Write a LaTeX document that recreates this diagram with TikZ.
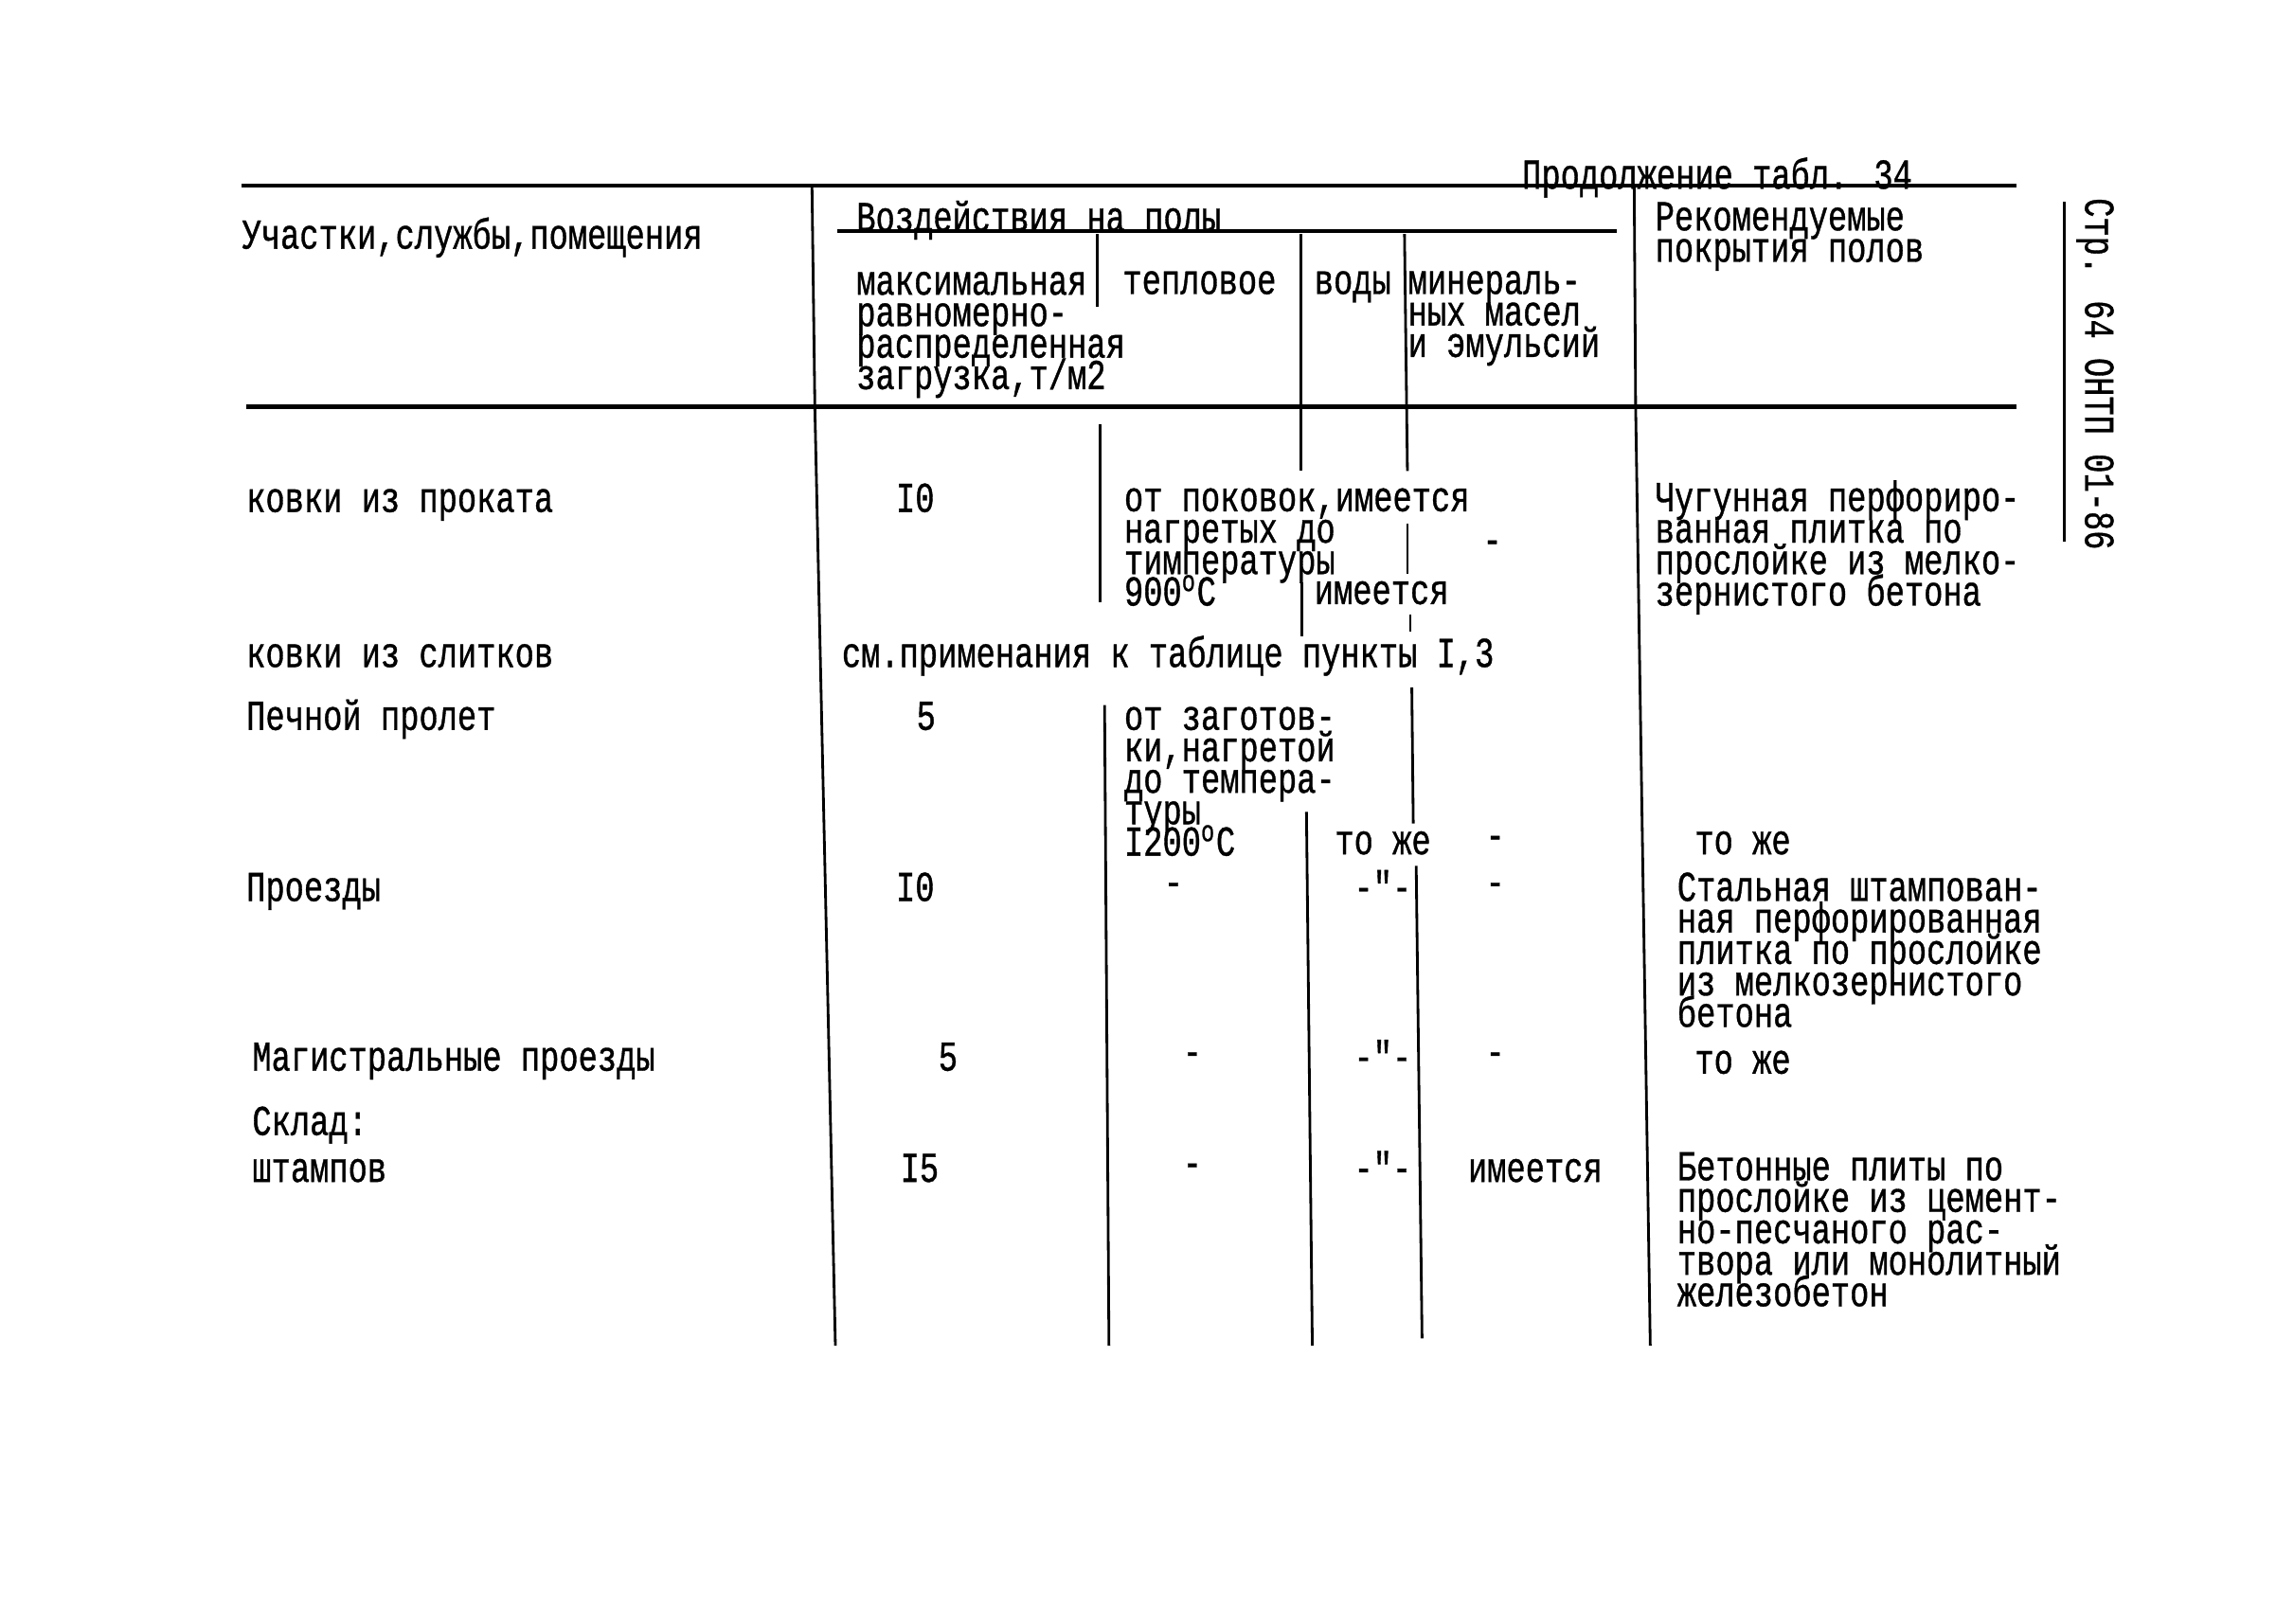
\documentclass[tikz,border=0pt]{standalone}
\usepackage{fontspec}
\newfontfamily\tw[FakeStretch=0.75,FakeBold=0.8]{Liberation Mono}
\newcommand\twfont{\tw\fontsize{12.8}{9.45}\selectfont\setlength\lineskiplimit{-20pt}\setlength\lineskip{0pt}}

\begin{document}
\begin{tikzpicture}[x=0.015446cm, y=-0.015446cm,
  txt/.style={anchor=base west, inner sep=0pt, align=left, font=\twfont},
  dsh/.style={anchor=center, inner sep=0pt, font=\twfont},
  toprule/.style={line width=1.3pt},
  colline/.style={line width=0.8pt}]
\useasboundingbox (0,0) rectangle (1568,1110);

% header (multi-line nodes sit on the base of their last line)
\node[txt] (prod) at (1040,129) {Продолжение табл. 34};
\node[txt] (uch)  at (165,170)  {Участки,службы,помещения};
\node[txt] (vozd) at (585,158)  {Воздействия на полы};
\node[txt] (rek)  at (1131,179) {Рекомендуемые\\покрытия полов};
\node[txt] (maks) at (585,266)  {максимальная\\равномерно-\\распределенная\\загрузка,т/м2};
\node[txt] (tepl) at (767,201)  {тепловое};
\node[txt] (vody) at (898,201)  {воды};
\node[txt] (minr) at (962,244)  {минераль-\\ных масел\\и эмульсий};
\node[txt, rotate=-90, anchor=west] (str) at (1432,135) {Стр. 64 ОНТП 01-86};

\draw[toprule] (165,127) -- (1378,127);
\draw[toprule] (168,278) -- (1378,278);
\draw[line width=1pt] (572,158) -- (1105,158);
\draw[line width=1pt] (1411,138) -- (1411,370);

% column lines
\draw[colline] (555,127) -- (557,280) -- (571,920);
\draw[colline] (750,160) -- (750,210);
\draw[colline] (752,290) -- (752,412);
\draw[colline] (755,482) -- (758,920);
\draw[colline] (889,160) -- (889,322);
\draw[colline] (890,398) -- (890,435);
\draw[colline] (893,555) -- (897,920);
\draw[colline] (960,160) -- (962,322);
\draw[colline] (962,358) -- (962,392);
\draw[colline] (964,420) -- (964,432);
\draw[colline] (965,470) -- (966,563);
\draw[colline] (968,592) -- (972,915);
\draw[colline] (1117,127) -- (1118,278) -- (1128,920);

% row 1
\node[txt] (kpr)  at (168,350)  {ковки из проката};
\node[txt] (kprz) at (612,350)  {I0};
\node[txt] (kprt) at (768,414)  {от поковок,имеется\\нагретых до\\тимпературы\\900\textsuperscript{o}C};
\node[txt] (kprv) at (898,413)  {имеется};
\node[dsh] (kprm) at (1020,374) {-};
\node[txt] (kprp) at (1131,414) {Чугунная перфориро-\\ванная плитка по\\прослойке из мелко-\\зернистого бетона};

% row 2
\node[txt] (ksl)  at (168,456)  {ковки из слитков};
\node[txt] (ksln) at (575,456)  {см.применания к таблице пункты I,3};

% row 3
\node[txt] (pech)  at (168,499)  {Печной пролет};
\node[txt] (pechz) at (626,499)  {5};
\node[txt] (pecht) at (768,585)  {от заготов-\\ки,нагретой\\до темпера-\\туры\\I200\textsuperscript{o}C};
\node[txt] (pechv) at (912,584)  {то же};
\node[dsh] (pechm) at (1022,576) {-};
\node[txt] (pechp) at (1158,584) {то же};

% row 4
\node[txt] (proe)  at (168,616)  {Проезды};
\node[txt] (proez) at (612,616)  {I0};
\node[dsh] (proet) at (802,608)  {-};
\node[txt] (proev) at (925,616)  {-"-};
\node[dsh] (proem) at (1022,608) {-};
\node[txt] (proep) at (1146,702) {Стальная штампован-\\ная перфорированная\\плитка по прослойке\\из мелкозернистого\\бетона};

% row 5
\node[txt] (mag)  at (172,732)  {Магистральные проезды};
\node[txt] (magz) at (641,732)  {5};
\node[dsh] (magt) at (815,724)  {-};
\node[txt] (magv) at (925,732)  {-"-};
\node[dsh] (magm) at (1022,724) {-};
\node[txt] (magp) at (1158,734) {то же};

% row 6
\node[txt] (skl)  at (172,776)  {Склад:};
\node[txt] (sht)  at (172,808)  {штампов};
\node[txt] (shtz) at (615,808)  {I5};
\node[dsh] (shtt) at (815,800)  {-};
\node[txt] (shtv) at (925,808)  {-"-};
\node[txt] (shtm) at (1003,808) {имеется};
\node[txt] (shtp) at (1146,893) {Бетонные плиты по\\прослойке из цемент-\\но-песчаного рас-\\твора или монолитный\\железобетон};
\end{tikzpicture}
\end{document}
